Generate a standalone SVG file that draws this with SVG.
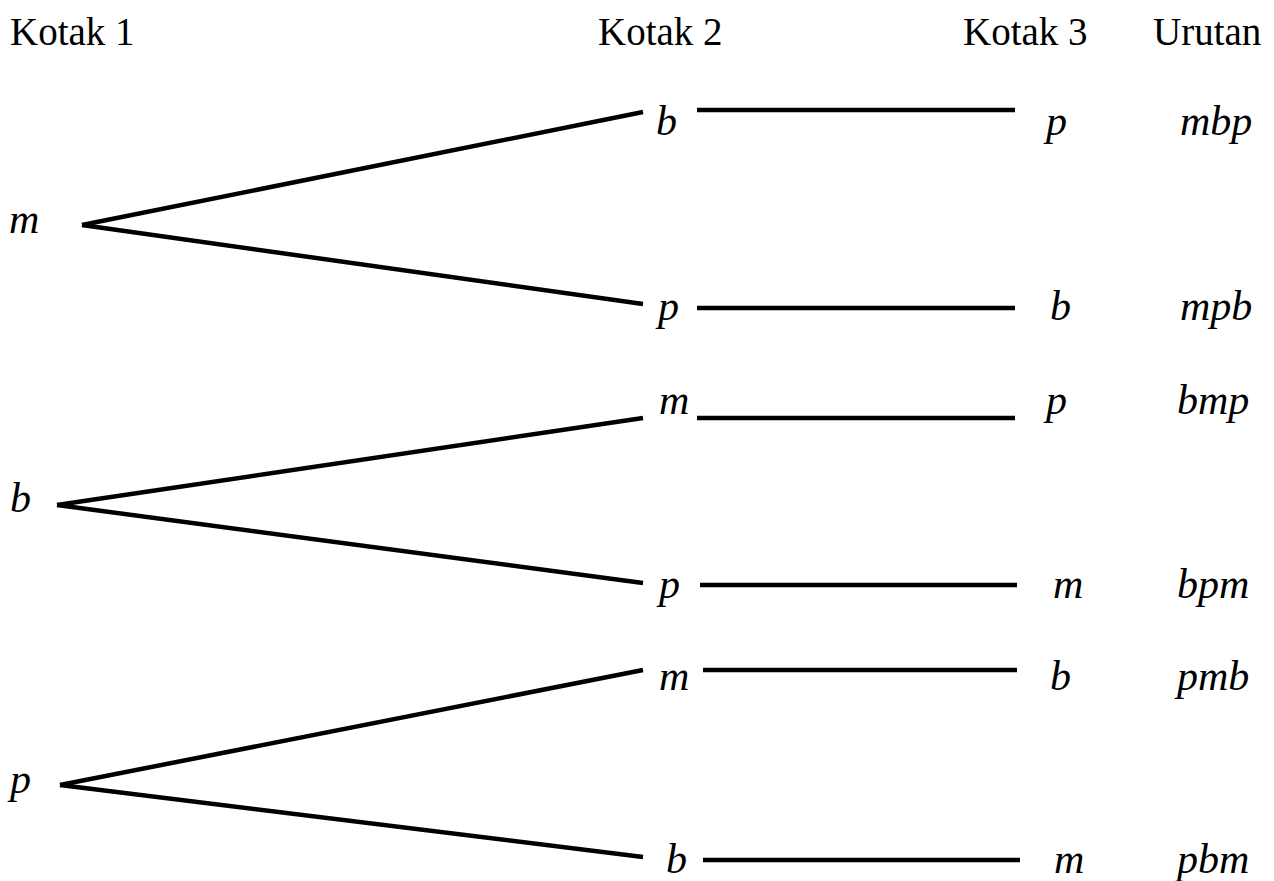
<svg xmlns="http://www.w3.org/2000/svg" width="1274" height="881" viewBox="0 0 1274 881">
<style>
.h{font-family:"Liberation Serif","Times New Roman",serif;font-size:39px;fill:#000}
.v{font-family:"Liberation Serif","Times New Roman",serif;font-size:42px;font-style:italic;fill:#000}
.c line{stroke:#000;stroke-width:4.5;stroke-linecap:butt}
</style>
<rect width="1274" height="881" fill="#fff"/>
<g id="headers">
<text class="h" x="10" y="45">Kotak 1</text>
<text class="h" x="598" y="45">Kotak 2</text>
<text class="h" x="963" y="45">Kotak 3</text>
<text class="h" x="1153" y="45">Urutan</text>
</g>
<g class="c" id="connectors">
<line x1="82" y1="225" x2="643" y2="112"/>
<line x1="82" y1="225" x2="643" y2="304"/>
<line x1="697" y1="110" x2="1015" y2="110"/>
<line x1="697" y1="308" x2="1015" y2="308"/>
<line x1="57" y1="505" x2="643" y2="418"/>
<line x1="57" y1="505" x2="643" y2="583"/>
<line x1="697" y1="418" x2="1015" y2="418"/>
<line x1="700" y1="585" x2="1017" y2="585"/>
<line x1="60" y1="785" x2="643" y2="670"/>
<line x1="60" y1="785" x2="643" y2="857"/>
<line x1="703" y1="670" x2="1017" y2="670"/>
<line x1="703" y1="860" x2="1020" y2="860"/>
</g>
<g id="n-m"><text class="v" x="9" y="233">m</text></g>
<g id="n-b"><text class="v" x="10" y="512">b</text></g>
<g id="n-p"><text class="v" x="10" y="793">p</text></g>
<g id="n-mb"><text class="v" x="656" y="135">b</text></g>
<g id="n-mp"><text class="v" x="658" y="320">p</text></g>
<g id="n-bm"><text class="v" x="659" y="414">m</text></g>
<g id="n-bp"><text class="v" x="659" y="598">p</text></g>
<g id="n-pm"><text class="v" x="659" y="690">m</text></g>
<g id="n-pb"><text class="v" x="666" y="873">b</text></g>
<g id="n-mbp"><text class="v" x="1046" y="135">p</text></g>
<g id="n-mpb"><text class="v" x="1050" y="320">b</text></g>
<g id="n-bmp"><text class="v" x="1046" y="414">p</text></g>
<g id="n-bpm"><text class="v" x="1053" y="598">m</text></g>
<g id="n-pmb"><text class="v" x="1050" y="690">b</text></g>
<g id="n-pbm"><text class="v" x="1054" y="873">m</text></g>
<g id="results">
<text class="v" x="1180" y="135">mbp</text>
<text class="v" x="1180" y="320">mpb</text>
<text class="v" x="1177" y="414">bmp</text>
<text class="v" x="1177" y="598">bpm</text>
<text class="v" x="1177" y="690">pmb</text>
<text class="v" x="1177" y="873">pbm</text>
</g>
</svg>
